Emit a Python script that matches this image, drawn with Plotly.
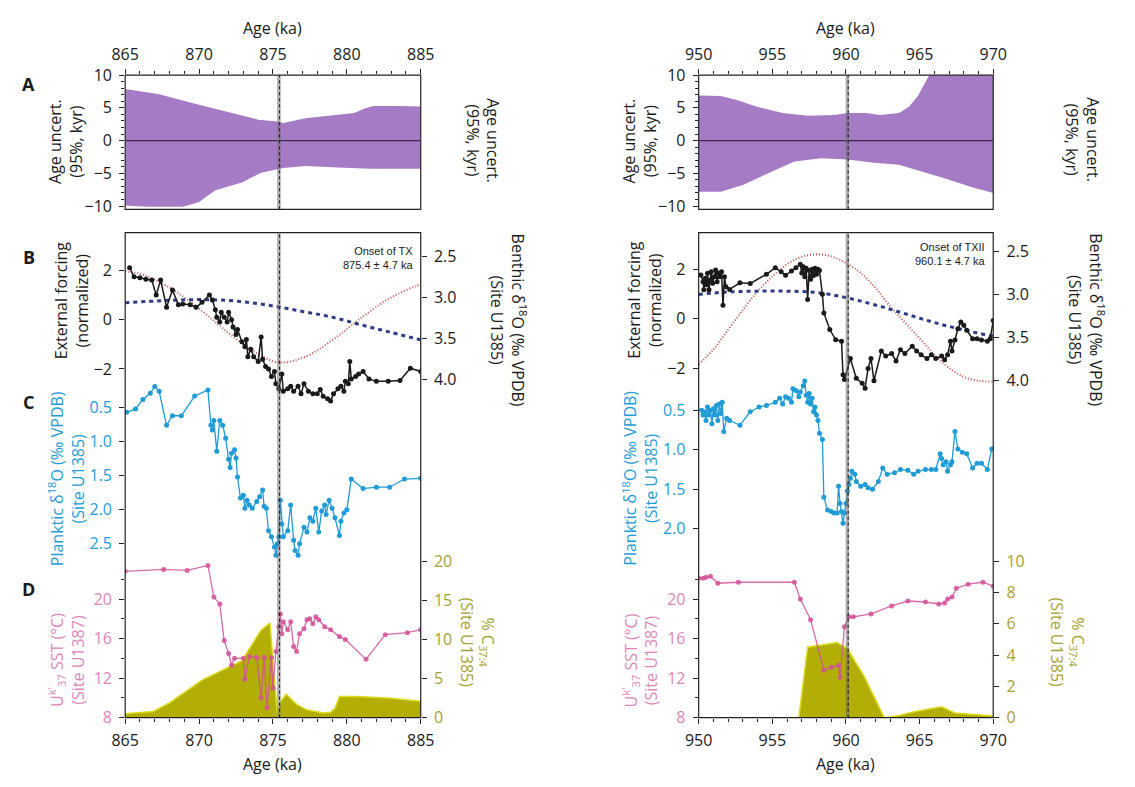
import plotly.graph_objects as go

W, H = 1135, 787
FONT = "Open Sans"
BLACK = "#1a1a1a"
PURPLE = "#a57bc6"
BLUE = "#1f9bd7"
PINK = "rgba(211,80,152,0.85)"
PINK_TXT = "#de86b8"
OLIVE = "#b2ae05"
OLIVE_EDGE = "#dcdc1e"
OLIVE_TXT = "#a4a232"
RED = "#c0504d"
NAVY = "#2d3c85"

# ---------------- data : left column (Termination X) ----------------
unc_up_age_L = [865, 867.3, 869.6, 871.8, 874.0, 875.3, 875.7, 877.2, 879.0, 880.5, 881.2, 881.8, 883.5, 885]
unc_up_L = [7.9, 7.1, 5.7, 4.4, 3.2, 2.9, 2.7, 3.4, 3.9, 4.2, 4.9, 5.3, 5.3, 5.2]
unc_lo_age_L = [865, 866.5, 868.9, 870.0, 871.1, 872.9, 874.2, 875.3, 875.7, 877.2, 879.4, 881.6, 885]
unc_lo_L = [-9.9, -10.1, -10.1, -9.4, -7.6, -6.4, -4.9, -4.4, -4.2, -3.9, -4.1, -4.3, -4.3]

benthic_age_L = [865.3, 865.6, 866.0, 866.4, 866.8, 867.1, 867.4, 867.8, 868.2, 868.6, 868.9, 869.4, 869.8,
                 870.2, 870.7, 870.9, 871.1, 871.2, 871.4, 871.5, 871.7, 871.9, 872.0, 872.2, 872.3, 872.5,
                 872.6, 872.9, 873.1, 873.2, 873.3, 873.5, 873.7, 874.0, 874.2, 874.3, 874.5, 874.7, 874.9,
                 875.1, 875.2, 875.4, 875.6, 875.7, 876.0, 876.2, 876.4, 876.7, 876.9, 877.1, 877.4, 877.7,
                 878.0, 878.2, 878.4, 878.7, 878.9, 879.1, 879.4, 879.6, 879.8, 879.9, 880.1, 880.2, 880.3,
                 880.6, 880.8, 881.1, 881.5, 882.0, 882.8, 883.6, 884.3, 885.0]
benthic_L = [2.64, 2.75, 2.76, 2.78, 2.79, 2.97, 2.79, 3.12, 2.91, 3.09, 3.08, 3.09, 3.12,
             3.06, 2.97, 3.03, 3.15, 3.24, 3.30, 3.18, 3.24, 3.30, 3.18, 3.27, 3.36, 3.45,
             3.39, 3.54, 3.60, 3.51, 3.72, 3.63, 3.72, 3.78, 3.48, 3.75, 3.84, 3.87, 3.96,
             3.90, 4.05, 4.11, 3.93, 4.14, 4.11, 4.08, 4.14, 4.08, 4.17, 4.05, 4.14, 4.17,
             4.17, 4.12, 4.20, 4.23, 4.26, 4.17, 4.11, 4.08, 4.14, 4.02, 4.05, 3.78, 3.99,
             3.96, 3.93, 3.90, 3.99, 4.02, 4.02, 4.01, 3.86, 3.90]

precession_age_L = [865.0, 866.0, 867.0, 868.0, 869.0, 870.0, 871.0, 872.0, 873.0, 874.0, 875.0, 875.6,
                    876.5, 877.5, 878.5, 879.5, 880.5, 881.5, 882.5, 883.5, 884.5, 885.0]
precession_L = [1.95, 1.85, 1.62, 1.3, 0.9, 0.45, -0.05, -0.55, -1.0, -1.4, -1.68, -1.74,
                -1.65, -1.42, -1.05, -0.62, -0.15, 0.3, 0.72, 1.05, 1.32, 1.42]
obliquity_age_L = [865, 867, 869, 871, 873, 875, 877, 879, 881, 883, 885]
obliquity_L = [0.68, 0.75, 0.8, 0.8, 0.72, 0.55, 0.33, 0.1, -0.22, -0.52, -0.82]

planktic_age_L = [865.1, 865.7, 866.2, 866.7, 867.0, 867.3, 867.8, 868.2, 868.8, 869.7, 870.6, 870.8,
                  870.9, 871.0, 871.2, 871.4, 871.6, 871.8, 872.0, 872.1, 872.2, 872.4, 872.5, 872.6,
                  872.8, 873.0, 873.1, 873.25, 873.4, 873.6, 873.9, 874.1, 874.3, 874.4, 874.55, 874.7,
                  874.9, 875.1, 875.2, 875.3, 875.4, 875.5, 875.6, 875.7, 876.0, 876.2, 876.4, 876.5,
                  876.7, 876.8, 877.1, 877.3, 877.5, 877.7, 877.9, 878.1, 878.3, 878.5, 878.6, 878.8,
                  879.0, 879.2, 879.5, 879.6, 879.8, 880.0, 880.3, 881.1, 882.0, 882.9, 883.9, 885.0]
planktic_L = [0.57, 0.52, 0.38, 0.29, 0.19, 0.26, 0.76, 0.62, 0.62, 0.33, 0.24, 0.76,
              0.83, 0.69, 1.14, 0.69, 0.76, 0.95, 1.26, 1.38, 1.17, 1.12, 1.24, 1.52,
              1.83, 1.79, 1.98, 1.86, 1.93, 1.98, 1.88, 1.81, 1.71, 1.95, 1.98, 2.31,
              2.4, 2.55, 2.67, 2.5, 2.4, 1.86, 2.21, 2.4, 2.31, 1.93, 2.45, 2.6,
              2.67, 2.5, 2.26, 2.33, 2.12, 2.17, 1.98, 2.33, 2.02, 1.93, 2.07, 1.86,
              1.98, 2.12, 2.38, 2.17, 2.05, 2.0, 1.55, 1.69, 1.67, 1.67, 1.55, 1.54]

sst_age_L = [865.0, 867.6, 869.2, 870.6, 871.0, 871.4, 871.7, 872.0, 872.2, 872.4, 873.0, 873.1, 873.4,
             873.9, 874.2, 874.4, 874.6, 874.9, 875.0, 875.2, 875.4, 875.5, 875.6, 875.7, 876.0, 876.2,
             876.4, 876.6, 876.8, 877.1, 877.3, 877.5, 877.7, 877.9, 878.1, 878.5, 878.9, 879.5, 879.9,
             881.3, 882.6, 884.1, 885.0]
sst_L = [22.8, 23.0, 22.9, 23.4, 20.2, 19.5, 15.8, 14.5, 13.3, 14.0, 14.0, 11.9, 14.2,
         14.1, 10.0, 14.1, 9.0, 14.1, 11.0, 14.7, 17.2, 18.5, 16.5, 17.7, 16.9, 17.7,
         15.2, 14.7, 16.5, 17.0, 17.9, 18.0, 17.5, 18.2, 17.9, 17.2, 16.9, 16.2, 15.9,
         13.9, 16.4, 16.6, 16.9]

c374_age_L = [865.0, 866.9, 868.0, 870.2, 872.9, 873.8, 874.2, 874.8, 875.3, 875.5, 875.9, 876.6,
              877.3, 878.4, 878.9, 879.2, 879.5, 880.6, 882.8, 885.0]
c374_L = [0.5, 0.8, 1.9, 4.8, 7.3, 10.0, 11.2, 12.1, 0.3, 2.0, 3.0, 1.7,
          1.0, 0.6, 0.7, 1.2, 2.7, 2.7, 2.5, 2.1]

# ---------------- data : right column (Termination XII) ----------------
unc_up_age_R = [950, 951.5, 952.6, 953.9, 955.7, 957.4, 959.2, 960.1, 961.4, 962.3, 963.6, 964.3,
                964.9, 965.4, 965.7, 966.5, 970]
unc_up_R = [6.9, 6.8, 6.2, 5.2, 4.2, 3.8, 3.9, 4.2, 4.2, 3.9, 4.2, 5.2, 6.9, 8.9, 10.2, 12.5, 16]
unc_lo_age_R = [950, 951.5, 953.0, 954.8, 956.5, 958.3, 960.1, 961.9, 963.6, 965.4, 966.9, 968.5, 970]
unc_lo_R = [-7.8, -7.8, -6.8, -4.9, -3.2, -2.7, -2.9, -3.4, -3.7, -4.9, -5.9, -7.1, -8.0]

benthic_age_R = [950.15, 950.3, 950.35, 950.45, 950.55, 950.6, 950.7, 950.8, 950.85, 950.95, 951.05,
                 951.15, 951.25, 951.35, 951.45, 951.55, 951.65, 951.75, 951.85, 952.1, 952.8, 953.5,
                 954.6, 955.2, 955.6, 955.9, 956.3, 956.6, 956.9, 957.0, 957.1, 957.2, 957.3, 957.4,
                 957.5, 957.6, 957.7, 957.8, 957.9, 958.0, 958.1, 958.2, 958.4, 958.5, 958.9, 959.3,
                 959.7, 959.8, 959.9, 960.3, 960.7, 961.1, 961.3, 961.5, 961.7, 961.9, 962.4, 962.7,
                 963.1, 963.4, 963.7, 964.0, 964.5, 964.8, 965.1, 965.5, 965.8, 966.1, 966.5, 966.7,
                 966.9, 967.1, 967.2, 967.4, 967.6, 967.8, 968.0, 968.2, 968.6, 968.9, 969.2, 969.6,
                 969.8, 970.0]
benthic_R = [2.775, 2.853, 2.945, 2.813, 2.888, 2.755, 2.945, 2.833, 2.738, 2.870, 2.795,
             2.718, 2.853, 2.755, 2.795, 2.738, 3.127, 2.795, 2.911, 2.942, 2.865, 2.873,
             2.767, 2.689, 2.738, 2.778, 2.729, 2.689, 2.651, 2.752, 2.680, 2.795, 2.695, 3.060,
             2.723, 2.824, 2.709, 2.781, 2.695, 2.767, 2.709, 2.723, 3.000, 3.216, 3.409, 3.527,
             3.544, 3.936, 3.991, 3.746, 3.976, 4.034, 4.091, 3.861, 3.746, 4.005, 3.659, 3.717,
             3.688, 3.775, 3.645, 3.688, 3.602, 3.659, 3.703, 3.746, 3.703, 3.746, 3.717, 3.760,
             3.703, 3.544, 3.659, 3.530, 3.400, 3.322, 3.360, 3.417, 3.515, 3.515, 3.530, 3.544,
             3.515, 3.305]

precession_age_R = [950.0, 951.0, 952.0, 953.0, 954.0, 955.0, 956.0, 957.0, 958.0, 959.0, 960.0,
                    961.0, 962.0, 963.0, 964.0, 965.0, 966.0, 967.0, 968.0, 969.0, 970.0]
precession_R = [-1.85, -1.25, -0.45, 0.35, 1.1, 1.7, 2.2, 2.5, 2.6, 2.52, 2.25,
                1.85, 1.25, 0.5, -0.15, -0.8, -1.45, -2.0, -2.36, -2.52, -2.55]
obliquity_age_R = [950, 952, 954, 956, 958, 960, 962, 964, 966, 968, 970]
obliquity_R = [0.98, 1.08, 1.11, 1.11, 1.06, 0.85, 0.55, 0.2, -0.16, -0.46, -0.72]

planktic_age_R = [950.2, 950.3, 950.4, 950.5, 950.6, 950.7, 950.8, 950.9, 951.0, 951.1, 951.2, 951.3,
                  951.4, 951.5, 951.6, 951.7, 951.9, 952.1, 952.8, 953.5, 954.1, 954.6, 955.2, 955.5,
                  955.7, 955.9, 956.1, 956.3, 956.4, 956.6, 956.8, 956.9, 957.1, 957.2, 957.3, 957.4,
                  957.5, 957.6, 957.7, 957.8, 957.9, 958.0, 958.1, 958.2, 958.4, 958.5, 958.75, 959.0,
                  959.2, 959.4, 959.5, 959.6, 959.7, 959.8, 959.9, 960.0, 960.1, 960.2, 960.3, 960.4,
                  960.6, 960.7, 961.0, 961.3, 961.5, 961.8, 962.2, 962.5, 962.8, 963.3, 963.7, 964.2,
                  964.6, 964.9, 965.4, 965.8, 966.1, 966.4, 966.5, 966.6, 966.8, 966.9, 967.1, 967.2,
                  967.4, 967.6, 967.9, 968.2, 968.6, 968.9, 969.2, 969.6, 969.9]
planktic_R = [0.5, 0.56, 0.52, 0.63, 0.46, 0.56, 0.5, 0.67, 0.48, 0.56, 0.44, 0.63,
              0.42, 0.54, 0.4, 0.77, 0.6, 0.63, 0.69, 0.52, 0.46, 0.44, 0.4, 0.35,
              0.42, 0.33, 0.35, 0.4, 0.23, 0.25, 0.33, 0.27, 0.19, 0.13, 0.31, 0.4,
              0.29, 0.42, 0.35, 0.52, 0.46, 0.56, 0.63, 0.79, 0.87, 1.6, 1.76, 1.78,
              1.8, 1.8, 1.46, 1.68, 1.78, 1.93, 1.8, 1.68, 1.52, 1.44, 1.36, 1.27,
              1.31, 1.4, 1.46, 1.44, 1.48, 1.5, 1.4, 1.23, 1.31, 1.29, 1.25, 1.26,
              1.31, 1.27, 1.25, 1.25, 1.25, 1.05, 1.11, 1.19, 1.15, 1.27, 1.19, 1.15,
              0.77, 0.99, 1.03, 1.05, 1.23, 1.17, 1.17, 1.25, 0.99]

sst_age_R = [950.0, 950.3, 950.5, 950.8, 951.3, 952.7, 956.5, 956.9, 957.6, 958.5, 959.0, 959.5,
             959.6, 959.9, 960.2, 960.5, 961.7, 963.1, 964.2, 965.4, 966.3, 966.7, 966.9, 967.2,
             967.5, 968.3, 969.3, 970.0]
sst_R = [22.1, 22.1, 22.2, 22.3, 21.6, 21.7, 21.7, 20.0, 17.9, 12.8, 13.1, 13.3,
         12.1, 17.2, 18.2, 18.2, 18.5, 19.3, 19.8, 19.7, 19.5, 19.6, 20.0, 20.2,
         21.1, 21.5, 21.7, 21.3]

c374_age_R = [950.0, 956.8, 957.4, 958.1, 959.4, 960.1, 961.2, 962.6, 963.4, 964.7, 966.5, 967.4, 970.0]
c374_R = [0, 0, 4.5, 4.6, 4.8, 4.4, 2.7, 0, 0.1, 0.4, 0.7, 0.3, 0.1]

# tick labels
age_ticks_L = [865, 870, 875, 880, 885]
age_ticks_R = [950, 955, 960, 965, 970]
planktic_ticks_L = [0.5, 1.0, 1.5, 2.0, 2.5]
planktic_ticks_R = [0.5, 1.0, 1.5, 2.0]
c374_ticks_L = [0, 5, 10, 15, 20]
c374_ticks_R = [0, 2, 4, 6, 8, 10]
sst_ticks = [8, 12, 16, 20]
onset_L = "Onset of TX<br>875.4 ± 4.7 ka"
onset_R = "Onset of TXII<br>960.1 ± 4.7 ka"

# ---------------- layout helpers ----------------
def px(p):
    return p / W


def py(p):
    return 1 - p / H


def akey(kind, n):
    return f"{kind}axis" if n == 1 else f"{kind}axis{n}"


def aref(kind, n):
    return kind if n == 1 else f"{kind}{n}"


def tfont(color=BLACK, size=16):
    return dict(family=FONT, size=size, color=color)


COMMON = dict(showgrid=False, zeroline=False, showline=False, ticks="outside", ticklen=5,
              tickwidth=1, tickcolor="#222")

columns = [
    dict(x0=114, x1=417, ages=age_ticks_L, event=875.4, onset=onset_L, onset_y=239,
         unc=(unc_up_age_L, unc_up_L, unc_lo_age_L, unc_lo_L),
         ben=(benthic_age_L, benthic_L), pre=(precession_age_L, precession_L),
         obl=(obliquity_age_L, obliquity_L), pla=(planktic_age_L, planktic_L),
         sst=(sst_age_L, sst_L), c37=(c374_age_L, c374_L),
         yB=[-3.72, 3.52], yB2=[4.386, 2.213], yC=[2.743, -0.043], cticks=planktic_ticks_L,
         yD=[0, 20.75], dticks=c374_ticks_L, right_off=(64, 90, 58)),
    dict(x0=702, x1=1004, ages=age_ticks_R, event=960.1, onset=onset_R, onset_y=235,
         unc=(unc_up_age_R, unc_up_R, unc_lo_age_R, unc_lo_R),
         ben=(benthic_age_R, benthic_R), pre=(precession_age_R, precession_R),
         obl=(obliquity_age_R, obliquity_R), pla=(planktic_age_R, planktic_R),
         sst=(sst_age_R, sst_R), c37=(c374_age_R, c374_R),
         yB=[-3.76, 3.48], yB2=[4.362, 2.282], yC=[2.396, 0.0], cticks=planktic_ticks_R,
         yD=[0, 10.37], dticks=c374_ticks_R, right_off=(92, 96, 76)),
]

A_TOP, A_BOT = 66, 204
B_TOP, B_BOT = 228, 412
C_TOP, C_BOT = 370, 565
D_TOP, D_BOT = 560, 727

fig = go.Figure()
layout = dict(width=W, height=H, margin=dict(l=0, r=0, t=0, b=0), paper_bgcolor="white",
              plot_bgcolor="rgba(0,0,0,0)", showlegend=False, font=tfont())
shapes, annotations = [], []

for c, col in enumerate(columns):
    nxA, nxM = 2 * c + 1, 2 * c + 2
    nyA, nyA2, nyB, nyB2, nyC, nyD, nyD2 = [7 * c + k for k in range(1, 8)]
    xr = [col["ages"][0], col["ages"][-1]]
    dom = [px(col["x0"]), px(col["x1"])]
    minor_x = dict(ticks="outside", dtick=1, ticklen=3, tickcolor="#222")

    layout[akey("x", nxA)] = dict(domain=dom, range=xr, anchor=aref("y", nyA), side="top",
                                  tickmode="array", tickvals=col["ages"], minor=minor_x,
                                  tickfont=tfont(), ticklabelstandoff=3, **COMMON)
    layout[akey("x", nxM)] = dict(domain=dom, range=xr, anchor=aref("y", nyD), side="bottom",
                                  tickmode="array", tickvals=col["ages"], minor=minor_x,
                                  tickfont=tfont(), ticklabelstandoff=3, **COMMON)
    ystd = dict(ticklabelstandoff=4)
    # panel A
    layout[akey("y", nyA)] = dict(domain=[py(A_BOT), py(A_TOP)], range=[-10.5, 10],
                                  anchor=aref("x", nxA), dtick=5, tick0=0,
                                  minor=dict(ticks="outside", dtick=1, ticklen=3, tickcolor="#222"),
                                  tickfont=tfont(), **ystd, **COMMON)
    layout[akey("y", nyA2)] = dict(overlaying=aref("y", nyA), side="right", range=[-10.5, 10],
                                   anchor=aref("x", nxA), dtick=5, tick0=0,
                                   minor=dict(ticks="outside", dtick=1, ticklen=3, tickcolor="#222"),
                                   tickfont=tfont(), **ystd, **COMMON)
    # panel B
    layout[akey("y", nyB)] = dict(domain=[py(B_BOT), py(B_TOP)], range=col["yB"],
                                  anchor=aref("x", nxM), dtick=2, tick0=0, tickfont=tfont(),
                                  **ystd, **COMMON)
    layout[akey("y", nyB2)] = dict(overlaying=aref("y", nyB), side="right", range=col["yB2"],
                                   anchor=aref("x", nxM), dtick=0.5, tick0=2.5, tickformat=".1f",
                                   tickfont=tfont(), **ystd, **COMMON)
    # panel C
    layout[akey("y", nyC)] = dict(domain=[py(C_BOT), py(C_TOP)], range=col["yC"],
                                  anchor=aref("x", nxM), tickmode="array", tickvals=col["cticks"],
                                  tickformat=".1f", tickfont=tfont(BLUE), **ystd, **COMMON)
    # panel D (base = %C37:4 on the right, overlay = SST on the left)
    layout[akey("y", nyD)] = dict(domain=[py(D_BOT), py(D_TOP)], range=col["yD"], side="right",
                                  anchor=aref("x", nxM), tickmode="array", tickvals=col["dticks"],
                                  tickfont=tfont(OLIVE_TXT), **ystd, **COMMON)
    layout[akey("y", nyD2)] = dict(overlaying=aref("y", nyD), side="left", range=[8, 24.42],
                                   anchor=aref("x", nxM), tickmode="array", tickvals=sst_ticks,
                                   minor=dict(ticks="outside", tickmode="array", tickvals=[10, 14, 18, 22],
                                              ticklen=3, tickcolor="#222"),
                                   tickfont=tfont(PINK_TXT), **ystd, **COMMON)

    xA, xM = aref("x", nxA), aref("x", nxM)

    # A: age uncertainty envelope
    ua, uv, la, lv = col["unc"]
    fig.add_trace(go.Scatter(x=list(ua) + list(la)[::-1], y=list(uv) + list(lv)[::-1], fill="toself",
                             fillcolor=PURPLE, line=dict(width=0), mode="lines",
                             xaxis=xA, yaxis=aref("y", nyA), hoverinfo="skip"))
    # B: forcing + benthic
    fig.add_trace(go.Scatter(x=col["pre"][0], y=col["pre"][1], mode="lines",
                             line=dict(color=RED, width=2, dash="1px,2px", shape="spline"),
                             xaxis=xM, yaxis=aref("y", nyB)))
    fig.add_trace(go.Scatter(x=col["obl"][0], y=col["obl"][1], mode="lines",
                             line=dict(color=NAVY, width=3, dash="4px,4px", shape="spline"),
                             xaxis=xM, yaxis=aref("y", nyB)))
    fig.add_trace(go.Scatter(x=col["ben"][0], y=col["ben"][1], mode="lines+markers",
                             line=dict(color=BLACK, width=1.5), marker=dict(color=BLACK, size=5),
                             xaxis=xM, yaxis=aref("y", nyB2)))
    # C: planktic
    fig.add_trace(go.Scatter(x=col["pla"][0], y=col["pla"][1], mode="lines+markers",
                             line=dict(color=BLUE, width=1.3), marker=dict(color=BLUE, size=5),
                             xaxis=xM, yaxis=aref("y", nyC)))
    # D: C37:4 fill and SST
    fig.add_trace(go.Scatter(x=col["c37"][0], y=col["c37"][1], mode="lines", fill="tozeroy",
                             fillcolor=OLIVE, line=dict(color=OLIVE_EDGE, width=1.5),
                             xaxis=xM, yaxis=aref("y", nyD)))
    fig.add_trace(go.Scatter(x=col["sst"][0], y=col["sst"][1], mode="lines+markers",
                             line=dict(color=PINK, width=1.3), marker=dict(color=PINK, size=5),
                             xaxis=xM, yaxis=aref("y", nyD2)))

    # frames
    for top, bot in ((A_TOP, A_BOT), (B_TOP, D_BOT)):
        shapes.append(dict(type="rect", xref="paper", yref="paper", x0=px(col["x0"]), x1=px(col["x1"]),
                           y0=py(bot), y1=py(top), line=dict(color="#222", width=1.2), layer="above"))
    # zero line in A
    shapes.append(dict(type="line", xref=f"{xA} domain", yref=aref("y", nyA), x0=0, x1=1, y0=0, y1=0,
                       line=dict(color="#3a2a4a", width=1.2), layer="above"))
    # event band + dotted line
    ev = col["event"]
    for top, bot, xr_ in ((A_TOP, A_BOT, xA), (B_TOP, D_BOT, xM)):
        shapes.append(dict(type="rect", xref=xr_, yref="paper", x0=ev - 0.12, x1=ev + 0.12,
                           y0=py(bot), y1=py(top), fillcolor="rgba(110,110,110,0.55)",
                           line=dict(width=0), layer="above"))
        shapes.append(dict(type="line", xref=xr_, yref="paper", x0=ev + 0.05, x1=ev + 0.05,
                           y0=py(bot), y1=py(top), line=dict(color="#111", width=1, dash="dot"),
                           layer="above"))

    x0, x1 = col["x0"], col["x1"]
    xc = (x0 + x1) / 2
    # x titles
    annotations.append(dict(text="Age (ka)", x=px(xc), y=py(17), xref="paper", yref="paper",
                            showarrow=False, font=tfont(BLACK, 16), xanchor="center", yanchor="middle"))
    annotations.append(dict(text="Age (ka)", x=px(xc), y=py(775), xref="paper", yref="paper",
                            showarrow=False, font=tfont(BLACK, 16), xanchor="center", yanchor="middle"))
    # y titles (left)
    ytitles_left = [
        ("Age uncert.<br>(95%, kyr)", 61, 134, BLACK),
        ("External forcing<br>(normalized)", 55, 298, BLACK),
        ("Planktic δ<sup>18</sup>O (‰ VPDB)<br>(Site U1385)", 60, 481, BLUE),
        ("U<sup>k'</sup><sub>37</sub> SST (°C)<br>(Site U1387)", 60, 668, PINK_TXT),
    ]
    for text, off, yc, colr in ytitles_left:
        annotations.append(dict(text=text, x=px(x0 - off), y=py(yc), xref="paper", yref="paper",
                                showarrow=False, textangle=-90, font=tfont(colr, 16),
                                xanchor="center", yanchor="middle"))
    oa, ob, od = col["right_off"]
    ytitles_right = [
        ("Age uncert.<br>(95%, kyr)", oa, 133, BLACK),
        ("Benthic δ<sup>18</sup>O (‰ VPDB)<br>(Site U1385)", ob, 318, BLACK),
        ("% C<sub>37:4</sub><br>(Site U1385)", od, 650, OLIVE_TXT),
    ]
    for text, off, yc, colr in ytitles_right:
        annotations.append(dict(text=text, x=px(x1 + off), y=py(yc), xref="paper", yref="paper",
                                showarrow=False, textangle=90, font=tfont(colr, 16),
                                xanchor="center", yanchor="middle"))
    # onset annotation
    annotations.append(dict(text=col["onset"], x=px(x1 - 5), y=py(col["onset_y"]), xref="paper",
                            yref="paper", showarrow=False, align="right", xanchor="right", yanchor="top",
                            font=dict(family="Liberation Sans", size=11, color=BLACK)))

# panel letters
for letter, yc in (("A", 75), ("B", 253), ("C", 402), ("D", 595)):
    annotations.append(dict(text=f"<b>{letter}</b>", x=px(15), y=py(yc), xref="paper", yref="paper",
                            showarrow=False, font=tfont(BLACK, 18), xanchor="center", yanchor="middle"))

layout["shapes"] = shapes
layout["annotations"] = annotations
fig.update_layout(**layout)
fig.write_html("out.html", config={"displayModeBar": False},
               post_script="document.body.style.margin='0px';document.body.style.overflow='hidden';")
